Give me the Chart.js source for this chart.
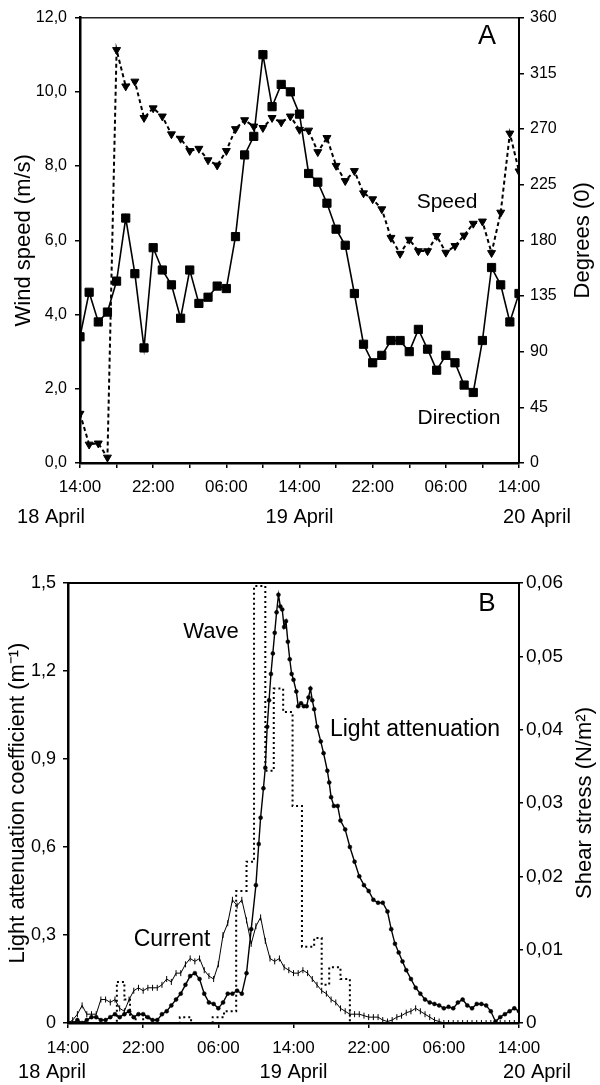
<!DOCTYPE html>
<html><head><meta charset="utf-8">
<script src="https://cdn.jsdelivr.net/npm/chart.js@4.4.1/dist/chart.umd.min.js"></script>
<style>
html,body{margin:0;padding:0;background:#fff;}
#wrapA{position:absolute;left:0;top:0;width:600px;height:545px;}
#wrapB{position:absolute;left:0;top:545px;width:600px;height:540px;}
canvas{display:block;}
</style></head><body>
<div id="wrapA"><canvas id="chartA" width="600" height="545"></canvas></div>
<div id="wrapB"><canvas id="chartB" width="600" height="540"></canvas></div>
<script>
// ---------- shared axis text ----------
const timeLabels = ['14:00','22:00','06:00','14:00','22:00','06:00','14:00'];
const dateLabels = ['18 April','19 April','20 April'];

// ---------- Panel A : wind ----------
const windHours = [0,1,2,3,4,5,6,7,8,9,10,11,12,13,14,15,16,17,18,19,20,21,22,23,24,25,26,27,28,29,30,31,32,33,34,35,36,37,38,39,40,41,42,43,44,45,46,47,48];
const windSpeed = [1.33,0.50,0.53,0.15,11.13,10.15,10.28,9.30,9.56,9.34,8.86,8.74,8.41,8.47,8.16,8.02,8.41,9.00,9.24,9.07,9.03,9.30,9.18,9.34,8.98,8.96,8.38,8.76,8.01,7.60,7.87,7.27,7.11,6.84,6.07,5.64,6.02,5.71,5.71,6.12,5.67,5.85,6.13,6.45,6.51,5.66,6.75,8.88,7.86];
const windDirection = [102,138,114,122,147,198,153,93,174,156,144,117,156,129,134,143,141,183,249,264,330,288,306,300,282,234,227,210,189,176,137,96,81,87,99,99,90,108,92,75,87,81,63,57,99,158,144,114,137];
const speedTicks = ['0,0','2,0','4,0','6,0','8,0','10,0','12,0'];
const degreeTicks = ['0','45','90','135','180','225','270','315','360'];

// ---------- Panel B : light attenuation & shear stress ----------
const lightHours = [0,0.5,1,1.5,2,2.5,3,3.5,4,4.5,5,5.5,6,6.5,7,7.5,8,8.5,9,9.5,10,10.5,11,11.5,12,12.5,13,13.5,14,14.5,15,15.5,16,16.5,17,17.5,18,18.5,19,19.5,20,20.3,20.5,20.8,21,21.2,21.4,21.6,21.8,22,22.2,22.4,22.6,22.8,23,23.2,23.4,23.6,23.8,24,24.3,24.5,24.8,25.1,25.4,25.6,25.8,26,26.2,26.5,26.9,27.2,27.6,27.8,28,28.3,28.7,29,29.5,30,30.5,31,31.5,32,32.5,33,33.5,34,34.4,34.8,35.2,35.6,36,36.5,37,37.5,38,38.5,39,39.5,40,40.5,41,41.5,42,42.5,43,43.5,44,44.5,45,45.5,46,46.5,47,47.5,48];
const lightAtten = [0.00,0.00,0.01,0.00,0.01,0.02,0.02,0.01,0.01,0.02,0.03,0.02,0.03,0.04,0.02,0.03,0.03,0.02,0.01,0.01,0.03,0.04,0.06,0.08,0.10,0.13,0.16,0.17,0.15,0.10,0.07,0.065,0.05,0.07,0.10,0.10,0.11,0.10,0.17,0.32,0.47,0.61,0.70,0.80,0.87,1.01,1.10,1.19,1.26,1.33,1.40,1.46,1.42,1.41,1.35,1.37,1.30,1.24,1.19,1.17,1.13,1.08,1.09,1.08,1.08,1.11,1.14,1.10,1.07,1.01,0.96,0.92,0.86,0.82,0.77,0.74,0.74,0.69,0.66,0.60,0.55,0.50,0.47,0.45,0.42,0.41,0.41,0.38,0.32,0.27,0.24,0.21,0.18,0.15,0.12,0.10,0.08,0.07,0.065,0.06,0.05,0.055,0.05,0.07,0.08,0.06,0.05,0.065,0.065,0.06,0.04,0.005,0.02,0.03,0.04,0.05,0.04];
const currentHours = [0,0.5,1,1.5,2,2.5,3,3.5,4,4.5,5,5.5,6,6.5,7,7.5,8,8.5,9,9.5,10,10.5,11,11.5,12,12.5,13,13.5,14,14.5,15,15.5,16,16.5,17,17.5,18,18.5,19,19.5,20,20.5,21,21.5,22,22.5,23,23.5,24,24.5,25,25.5,26,26.5,27,27.5,28,28.5,29,29.5,30,30.5,31,31.5,32,32.5,33,33.5,34,34.5,35,35.5,36,36.5,37,37.5,38,38.5,39,39.5,40,40.5,41,41.5,42,42.5,43,43.5,44,44.5,45,45.5,46,46.5,47,47.5,48];
const currentStress = [0,0.0004,0.0012,0.0024,0.0012,0.0012,0.0012,0.0032,0.0032,0.0028,0.0032,0.0020,0.0016,0.0032,0.0044,0.0048,0.0044,0.0048,0.0048,0.0048,0.0052,0.0060,0.0056,0.0068,0.0068,0.0080,0.0088,0.0084,0.0088,0.0072,0.0064,0.0060,0.0080,0.0120,0.0136,0.0168,0.0160,0.0168,0.0140,0.0108,0.0132,0.0144,0.0112,0.0088,0.0084,0.0088,0.0076,0.0072,0.0068,0.0068,0.0072,0.0068,0.0060,0.0052,0.0044,0.0040,0.0032,0.0028,0.0020,0.0016,0.0012,0.0012,0.0012,0.0010,0.0008,0.0008,0.0008,0.0004,0.0002,0.0004,0.0008,0.0010,0.0014,0.0016,0.0020,0.0016,0.0012,0.0008,0.0004,0.0002,0,0,0,0,0,0,0,0,0,0,0,0,0,0,0,0,0];
const waveHours = [0,5.2,6.0,6.6,7.2,8.0,8.7,11.9,13.1,15.4,16.6,17.9,19.0,19.8,21.0,21.9,22.9,23.9,24.9,26.2,27.0,27.8,29.0,30.0,48];
const waveStress = [0,0.0056,0.0032,0.0008,0,0.0008,0,0.0008,0,0.0008,0.0016,0.0180,0.0220,0.0596,0.0344,0.0456,0.0424,0.0296,0.0104,0.0116,0.0052,0.0076,0.0060,0,0];
const attenTicks = ['0','0,3','0,6','0,9','1,2','1,5'];
const stressTicks = ['0','0,01','0,02','0,03','0,04','0,05','0,06'];

// ---------- helpers ----------
const FONT = "'Liberation Sans', Arial, Helvetica, sans-serif";
Chart.defaults.font.family = FONT;
Chart.defaults.color = '#000';
const pts = (xs, ys) => xs.map((x, i) => ({x: x, y: ys[i]}));

function tickGrid(len){ return {display:true, drawOnChartArea:false, drawTicks:true, tickLength:len, color:'#000', lineWidth:1.5}; }

function textAt(ctx, txt, x, y, size, rot){
  ctx.save();
  ctx.translate(x, y);
  if (rot) ctx.rotate(rot);
  ctx.font = size + 'px ' + FONT;
  ctx.fillStyle = '#000';
  ctx.textAlign = 'center';
  ctx.textBaseline = 'middle';
  ctx.fillText(txt, 0, 0);
  ctx.restore();
}

function makeOverlay(cfg){
  return {
    id: 'overlay' + cfg.id,
    afterDraw(chart){
      const ctx = chart.ctx;
      const xs = chart.scales.x;
      const ca = chart.chartArea;
      textAt(ctx, dateLabels[0], xs.getPixelForValue(0) + cfg.dateOff[0], cfg.dateY, cfg.dateSize);
      textAt(ctx, dateLabels[1], xs.getPixelForValue(24) + cfg.dateOff[1], cfg.dateY, cfg.dateSize);
      textAt(ctx, dateLabels[2], xs.getPixelForValue(48) + cfg.dateOff[2], cfg.dateY, cfg.dateSize);
      textAt(ctx, cfg.rightTitle, cfg.rightTitleX, (ca.top + ca.bottom) / 2, cfg.titleSize, -Math.PI / 2);
      cfg.notes.forEach(n => textAt(ctx, n.t, n.x, n.y, n.s));
    }
  };
}

// ---------- Chart A ----------
new Chart(document.getElementById('chartA'), {
  type: 'line',
  data: { datasets: [
    { label: 'Speed', data: pts(windHours, windSpeed), yAxisID: 'y',
      borderColor: '#000', backgroundColor: '#000', borderWidth: 2, borderDash: [4, 3],
      pointStyle: 'triangle', pointRotation: 180, pointRadius: 4.6, pointBorderWidth: 1, tension: 0 },
    { label: 'Direction', data: pts(windHours, windDirection), yAxisID: 'y2',
      borderColor: '#000', backgroundColor: '#000', borderWidth: 1.6,
      pointStyle: 'rect', pointRadius: 5.8, pointBorderWidth: 1, tension: 0 }
  ]},
  options: {
    responsive: false, animation: false, devicePixelRatio: 1,
    layout: { padding: { top: 16, left: 0, right: 0, bottom: 0 } },
    plugins: { legend: { display: false }, tooltip: { enabled: false } },
    scales: {
      x: { type: 'linear', position: 'bottom', min: 0, max: 48,
        ticks: { stepSize: 4, autoSkip: false, maxRotation: 0, padding: 9, font: { size: 17 },
          callback: v => (v % 8 === 0 ? timeLabels[v / 8] : '') },
        grid: tickGrid(5), border: { display: true, color: '#000', width: 2.5 },
        afterFit: s => { s.height = 82; } },
      xTop: { type: 'linear', position: 'top', min: 0, max: 48,
        ticks: { display: false }, grid: { display: false },
        border: { display: true, color: '#222', width: 1.5 },
        afterFit: s => { s.height = 0; } },
      y: { position: 'left', min: 0, max: 12,
        ticks: { stepSize: 2, padding: 8, font: { size: 16 }, callback: (v, i) => speedTicks[i] },
        grid: tickGrid(5), border: { display: true, color: '#000', width: 2.5 },
        title: { display: true, text: 'Wind speed (m/s)', font: { size: 22, lineHeight: 1 }, padding: { top: 13, bottom: 0 } },
        afterFit: s => { s.width = 80; } },
      y2: { position: 'right', min: 0, max: 360,
        ticks: { stepSize: 45, padding: 6, font: { size: 16 }, callback: (v, i) => degreeTicks[i] },
        grid: tickGrid(5), border: { display: true, color: '#000', width: 2 },
        afterFit: s => { s.width = 81; } }
    }
  },
  plugins: [ makeOverlay({ id: 'A', dateY: 517, dateSize: 20, dateOff: [-29, 0, 18],
    rightTitle: 'Degrees (0)', rightTitleX: 583, titleSize: 22,
    notes: [ { t: 'A', x: 487, y: 37, s: 27 }, { t: 'Speed', x: 447, y: 202, s: 21 }, { t: 'Direction', x: 459, y: 418, s: 21 } ] }) ]
});

// ---------- Chart B ----------
new Chart(document.getElementById('chartB'), {
  type: 'line',
  data: { datasets: [
    { label: 'Light attenuation', data: pts(lightHours, lightAtten), yAxisID: 'y',
      borderColor: '#000', backgroundColor: '#000', borderWidth: 1.4,
      pointStyle: 'circle', pointRadius: 2, pointBorderWidth: 0.5, tension: 0 },
    { label: 'Current', data: pts(currentHours, currentStress), yAxisID: 'y2',
      borderColor: '#000', backgroundColor: '#000', borderWidth: 1,
      pointStyle: 'line', pointRotation: 90, pointRadius: 3, pointBorderWidth: 1, tension: 0 },
    { label: 'Wave', data: pts(waveHours, waveStress), yAxisID: 'y2',
      borderColor: '#000', borderWidth: 2, borderDash: [2, 3], stepped: 'before', pointRadius: 0 }
  ]},
  options: {
    responsive: false, animation: false, devicePixelRatio: 1,
    layout: { padding: { top: 38, left: 0, right: 0, bottom: 0 } },
    plugins: { legend: { display: false }, tooltip: { enabled: false } },
    scales: {
      x: { type: 'linear', position: 'bottom', min: 0, max: 48,
        ticks: { stepSize: 8, autoSkip: false, maxRotation: 0, padding: 10, font: { size: 17 },
          callback: v => timeLabels[v / 8] },
        grid: tickGrid(5), border: { display: true, color: '#000', width: 2.5 },
        afterFit: s => { s.height = 62; } },
      xTop: { type: 'linear', position: 'top', min: 0, max: 48,
        ticks: { display: false }, grid: { display: false },
        border: { display: true, color: '#000', width: 2 },
        afterFit: s => { s.height = 0; } },
      y: { position: 'left', min: 0, max: 1.5,
        ticks: { stepSize: 0.3, padding: 7, font: { size: 18 }, callback: (v, i) => attenTicks[i] },
        grid: tickGrid(5), border: { display: true, color: '#000', width: 2.5 },
        title: { display: true, text: 'Light attenuation coefficient (m\u207B\u00B9)', font: { size: 22, lineHeight: 1 }, padding: { top: 7, bottom: 0 } },
        afterFit: s => { s.width = 68; } },
      y2: { position: 'right', min: 0, max: 0.06,
        ticks: { stepSize: 0.01, padding: 3, font: { size: 19 }, callback: (v, i) => stressTicks[i] },
        grid: tickGrid(4), border: { display: true, color: '#000', width: 2 },
        afterFit: s => { s.width = 81; } }
    }
  },
  plugins: [ makeOverlay({ id: 'B', dateY: 527, dateSize: 20, dateOff: [-16, 0, 18],
    rightTitle: 'Shear stress (N/m\u00B2)', rightTitleX: 585, titleSize: 22,
    notes: [ { t: 'B', x: 487, y: 59, s: 26 }, { t: 'Wave', x: 211, y: 87, s: 22 },
             { t: 'Light attenuation', x: 415, y: 185, s: 23 }, { t: 'Current', x: 172, y: 395, s: 23 } ] }) ]
});
</script>
</body></html>
